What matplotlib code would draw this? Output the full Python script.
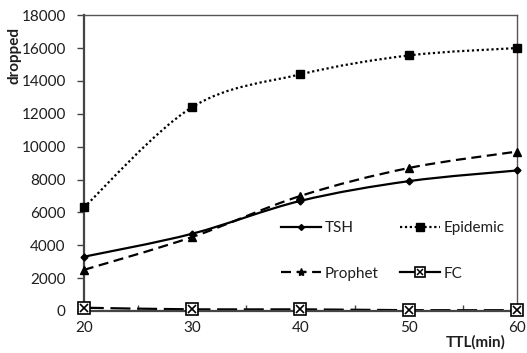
import numpy as np
import matplotlib.pyplot as plt
from matplotlib.path import Path
from matplotlib.patches import PathPatch
from matplotlib.lines import Line2D
from matplotlib.ticker import MultipleLocator

ttl = [20, 30, 40, 50, 60]
tsh = [3300, 4700, 6700, 7900, 8550]
epidemic = [6300, 12400, 14400, 15550, 16000]
prophet = [2500, 4500, 7000, 8700, 9700]
fc = [200, 100, 100, 50, 50]

plt.rcParams['font.family'] = ['Lato', 'DejaVu Sans']
txt = '#1e1e1e'


def smooth_path(x, y):
    # Bezier segments through the points (Catmull-Rom style, like spreadsheet smoothed lines)
    p = np.column_stack([x, y]).astype(float)
    ext = np.vstack([p[0], p, p[-1]])
    verts = [p[0]]
    codes = [Path.MOVETO]
    for i in range(len(p) - 1):
        p0, p1, p2, p3 = ext[i], ext[i + 1], ext[i + 2], ext[i + 3]
        verts += [p1 + (p2 - p0) / 6, p2 - (p3 - p1) / 6, p2]
        codes += [Path.CURVE4] * 3
    return Path(verts, codes)


def draw(ax, x, y, ls, lw, **mk):
    ax.add_patch(PathPatch(smooth_path(x, y), fill=False, lw=lw, ls=ls,
                           edgecolor='black', capstyle='butt', zorder=2))
    ax.plot(x, y, ls='none', color='black', zorder=3, clip_on=False, **mk)


fig = plt.figure(figsize=(5.27, 3.53), dpi=100)
ax = fig.add_axes([0.159, 0.119, 0.822, 0.838])

draw(ax, ttl, epidemic, (0, (1, 1.2)), 1.6, marker='s', ms=6)
draw(ax, ttl, prophet, (0, (4.5, 2.5)), 1.6, marker='^', ms=5.5)
draw(ax, ttl, tsh, '-', 1.6, marker='D', ms=3.5)
draw(ax, ttl, fc, (0, (9, 3)), 1.6, marker='s', ms=8, mfc='white', mec='black', mew=1.2)
ax.plot(ttl, fc, ls='none', marker='x', ms=6, mew=1.2, color='black', zorder=4, clip_on=False)

ax.set_xlim(20, 60)
ax.set_ylim(0, 18000)
ax.xaxis.set_major_locator(MultipleLocator(10))
ax.set_xticks([25, 35, 45, 55], minor=True)
ax.yaxis.set_major_locator(MultipleLocator(2000))

ax.tick_params(axis='x', which='major', length=0, pad=7, labelsize=11, labelcolor=txt)
ax.tick_params(axis='x', which='minor', direction='in', length=4, width=1, color='#444444')
ax.tick_params(axis='y', direction='out', length=5, width=1, color='#444444',
               pad=8, labelsize=11, labelcolor=txt)

for s in ['left', 'bottom']:
    ax.spines[s].set_linewidth(1.6)
    ax.spines[s].set_color('#444444')
for s in ['top', 'right']:
    ax.spines[s].set_linewidth(1.0)
    ax.spines[s].set_color('#555555')

ax.set_ylabel('dropped', fontweight='bold', fontsize=11, color=txt)
ax.yaxis.set_label_coords(-0.143, 0.865)
ax.set_xlabel('TTL(min)', fontweight='bold', fontsize=11, color=txt)
ax.xaxis.set_label_coords(0.905, -0.08)

handles = [
    Line2D([], [], color='black', lw=1.6, marker='D', ms=3),
    Line2D([], [], color='black', lw=1.6, ls=(0, (4.5, 2.5)), marker='*', ms=6),
    Line2D([], [], color='black', lw=1.6, ls=(0, (1, 1.2)), marker='s', ms=6),
    (Line2D([], [], color='black', lw=1.6, marker='s', ms=7, mfc='white', mew=1.2),
     Line2D([], [], ls='none', marker='x', ms=5, mew=1.1, color='black')),
]
labels = ['TSH', 'Prophet', 'Epidemic', 'FC']
leg = ax.legend(handles, labels, ncol=2, frameon=False, loc='upper left',
                bbox_to_anchor=(0.424, 0.35), fontsize=11, handlelength=2.6,
                handletextpad=0.25, columnspacing=1.4, labelspacing=2.05,
                labelcolor=txt)

fig.savefig('out.png', dpi=100)
